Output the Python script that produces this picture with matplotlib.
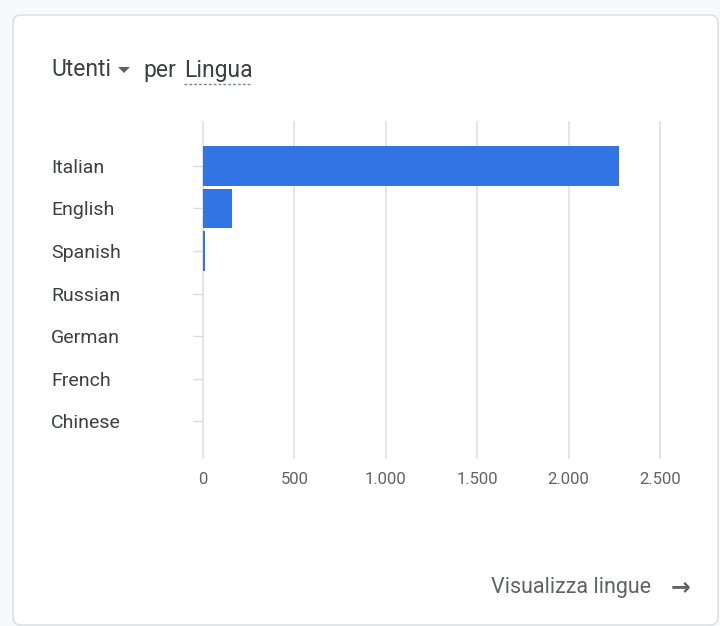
import matplotlib

matplotlib.use("Agg")
import matplotlib.pyplot as plt
from matplotlib.patches import FancyBboxPatch, Polygon
from matplotlib.lines import Line2D
from matplotlib.ticker import FuncFormatter

languages = ["Italian", "English", "Spanish", "Russian", "German", "French", "Chinese"]
users = [2275, 158, 9, 1, 1, 1, 1]
x_ticks = [0, 500, 1000, 1500, 2000, 2500]

W, H = 720, 626
BAR = "#3274e4"
TEXT = "#3c4043"
MUTED = "#5f6368"
GRID = "#e3e5e8"


def fx(px):
    return px / W


def fy(py):
    return 1 - py / H


plt.rcParams["font.family"] = ["Roboto", "DejaVu Sans"]

fig = plt.figure(figsize=(W / 100, H / 100), dpi=100)
fig.patch.set_facecolor("#f8f9fa")

card = FancyBboxPatch(
    (fx(13), fy(625)), fx(705), 610 / H,
    boxstyle="round,pad=0,rounding_size=0.012",
    transform=fig.transFigure, facecolor="white", edgecolor="#dadce0", linewidth=1.0,
    zorder=-10,
)
fig.patches.append(card)

ax = fig.add_axes([fx(203), fy(458), fx(660 - 203), (458 - 122) / H])
ax.set_facecolor("none")
pos = list(range(len(languages)))
ax.barh(pos, users, height=0.92, color=BAR, zorder=3)
ax.set_xlim(0, 2500)
ax.set_ylim(6.87, -1.035)
ax.set_xticks(x_ticks)
ax.xaxis.set_major_formatter(FuncFormatter(lambda v, _: f"{int(v):,}".replace(",", ".")))
ax.grid(axis="x", color=GRID, linewidth=1.4, zorder=0)
ax.grid(axis="y", visible=False)
for side in ax.spines.values():
    side.set_visible(False)
ax.tick_params(axis="x", length=0, pad=10, labelsize=12, labelcolor=MUTED)
ax.set_yticks(pos)
ax.set_yticklabels(languages)
ax.tick_params(axis="y", length=7, width=1, color="#dadce0", pad=102.5,
               labelsize=14, labelcolor=TEXT)
for lab in ax.get_yticklabels():
    lab.set_horizontalalignment("left")
for line in ax.get_xgridlines():
    line.set_clip_on(False)

# header
fig.text(fx(51), fy(70), "Utenti", fontsize=16.5, color=TEXT, va="center", ha="left")
fig.patches.append(Polygon([[fx(118), fy(67)], [fx(130), fy(67)], [fx(124), fy(73)]],
                           closed=True, transform=fig.transFigure, facecolor=MUTED, edgecolor="none"))
fig.text(fx(143), fy(70), "per", fontsize=16.5, color=TEXT, va="center", ha="left")
fig.text(fx(184), fy(70), "Lingua", fontsize=16.5, color=TEXT, va="center", ha="left")
fig.lines.append(Line2D([fx(184), fx(250)], [fy(84), fy(84)], transform=fig.transFigure,
                        color="#80868b", linewidth=1, linestyle=(0, (2, 1.5))))

# footer link
fig.text(fx(491), fy(588), "Visualizza lingue", fontsize=15.5, color=MUTED, va="center", ha="left")
fig.text(fx(671), fy(587), "\u2192", fontsize=17, color=MUTED, va="center", ha="left",
         family="DejaVu Sans", fontweight="bold")

fig.savefig("out.png", dpi=100)
